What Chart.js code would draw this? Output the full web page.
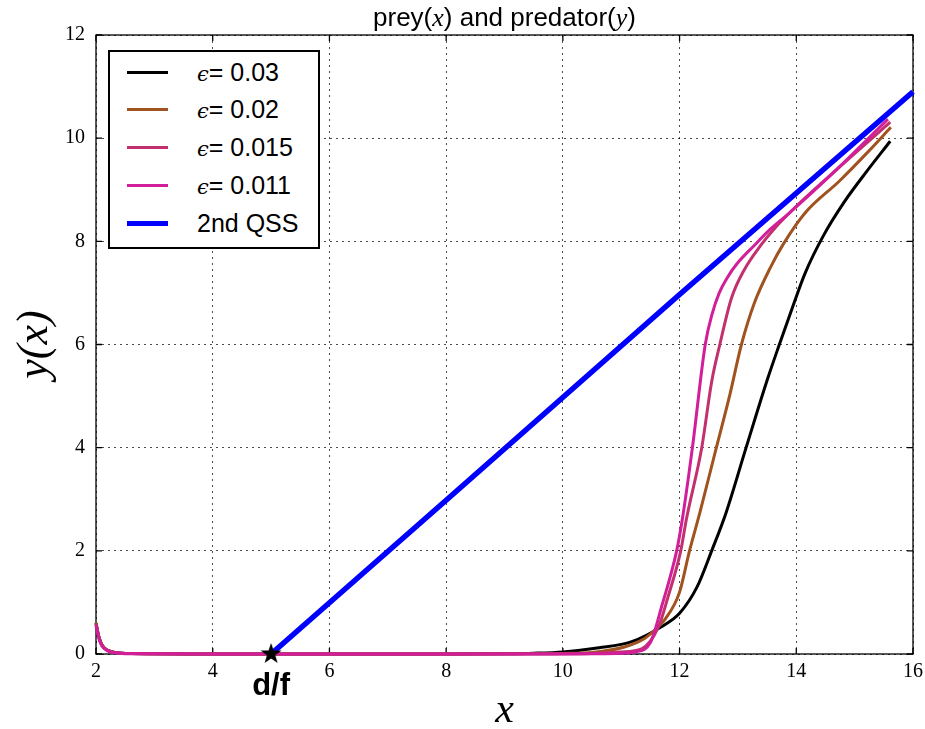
<!DOCTYPE html>
<html>
<head>
<meta charset="utf-8">
<script src="https://cdn.jsdelivr.net/npm/chart.js@4.4.1/dist/chart.umd.min.js"></script>
<style>
  body { margin: 0; background: #fff; }
  #wrap { position: relative; width: 925px; height: 729px; }
  #legend {
    position: absolute; left: 108px; top: 50px; width: 208px; height: 195px;
    border: 2px solid #000; background: #fff;
    font-family: "Liberation Sans", Arial, sans-serif; font-size: 25px; color: #000;
  }
  #legend .row { position: absolute; left: 0; width: 100%; height: 30px; }
  #legend .swatch { position: absolute; left: 17px; width: 41px; top: 14px; height: 3px; }
  #legend .lbl { position: absolute; left: 87px; top: 0; line-height: 30px; white-space: nowrap; }
  #legend .eps { font-family: "DejaVu Serif", serif; font-style: italic; font-size: 21px; }
</style>
</head>
<body>
<div id="wrap">
  <canvas id="chart" width="925" height="729"></canvas>
  <div id="legend"></div>
</div>
<script>
/* presa e predador: y(x) para vários epsilon e a 2ª QSS */

const xTickValues = [2, 4, 6, 8, 10, 12, 14, 16];
const yTickValues = [0, 2, 4, 6, 8, 10, 12];

const eps003X = [2, 2.05, 2.1, 2.2, 2.35, 2.6, 4, 6, 8, 9, 9.5, 10, 10.62, 11.18, 11.69, 12.0, 12.3, 12.55, 12.8, 13.14, 13.51, 13.71, 13.96, 14.15, 14.47, 14.82, 15.21, 15.61];
const eps003Y = [0.6, 0.33, 0.18, 0.07, 0.025, 0.008, 0, 0, 0, 0.005, 0.015, 0.04, 0.12, 0.24, 0.53, 0.79, 1.3, 2.0, 2.75, 4.0, 5.34, 6.0, 6.8, 7.38, 8.12, 8.76, 9.36, 9.94];

const eps002X = [2, 2.05, 2.1, 2.2, 2.35, 2.6, 4, 6, 8, 9.5, 10, 10.5, 11.07, 11.4, 11.58, 11.75, 12.0, 12.17, 12.35, 12.63, 12.86, 13.06, 13.28, 13.56, 13.78, 14.15, 14.74, 15.2, 15.62];
const eps002Y = [0.6, 0.33, 0.18, 0.07, 0.025, 0.008, 0, 0, 0, 0.004, 0.01, 0.03, 0.14, 0.3, 0.47, 0.67, 1.2, 2.0, 2.75, 4.0, 5.02, 6.0, 6.8, 7.5, 7.95, 8.55, 9.17, 9.7, 10.21];

const eps0015X = [2, 2.05, 2.1, 2.2, 2.35, 2.6, 4, 6, 8, 10, 10.5, 11, 11.35, 11.64, 11.8, 12.02, 12.12, 12.38, 12.55, 12.69, 12.89, 13.11, 13.39, 13.62, 14.0, 14.8, 15.61];
const eps0015Y = [0.58, 0.32, 0.17, 0.07, 0.025, 0.008, 0, 0, 0, 0.004, 0.01, 0.04, 0.1, 0.53, 1.1, 2.0, 2.63, 4.0, 5.28, 6.0, 6.9, 7.45, 7.92, 8.24, 8.68, 9.5, 10.31];

const eps0011X = [2, 2.05, 2.1, 2.2, 2.35, 2.6, 4, 6, 8, 10, 10.5, 11, 11.24, 11.5, 11.7, 11.95, 12.05, 12.22, 12.44, 12.56, 12.68, 12.82, 12.98, 13.28, 13.56, 13.85, 14.7, 15.57];
const eps0011Y = [0.56, 0.3, 0.16, 0.06, 0.02, 0.006, 0, 0, 0, 0.002, 0.005, 0.015, 0.04, 0.22, 0.95, 2.0, 2.63, 4.0, 6.0, 6.6, 7.0, 7.3, 7.56, 7.92, 8.24, 8.52, 9.4, 10.37];

const qssX = [5, 8, 12, 16];
const qssY = [0, 2.98, 6.97, 10.9];

const starX = [5];
const starY = [0];

const legendItems = [
  { eps: true, text: '= 0.03', color: '#000000', width: 3 },
  { eps: true, text: '= 0.02', color: '#a0521f', width: 3 },
  { eps: true, text: '= 0.015', color: '#c2306e', width: 3 },
  { eps: true, text: '= 0.011', color: '#d21e9a', width: 3 },
  { eps: false, text: '2nd QSS', color: '#0000ff', width: 5 }
];

function pts(xs, ys) {
  return xs.map(function (x, i) { return { x: x, y: ys[i] }; });
}

/* legenda em HTML, no estilo da caixa do matplotlib */
(function () {
  const box = document.getElementById('legend');
  const centers = [20, 57, 95, 133, 171];
  legendItems.forEach(function (it, i) {
    const row = document.createElement('div');
    row.className = 'row';
    row.style.top = (centers[i] - 15) + 'px';
    const sw = document.createElement('div');
    sw.className = 'swatch';
    sw.style.background = it.color;
    sw.style.height = it.width + 'px';
    sw.style.top = (15 - it.width / 2) + 'px';
    const lbl = document.createElement('div');
    lbl.className = 'lbl';
    if (it.eps) {
      const e = document.createElement('span');
      e.className = 'eps';
      e.textContent = '\u03F5';
      lbl.appendChild(e);
    }
    lbl.appendChild(document.createTextNode(it.text));
    row.appendChild(sw);
    row.appendChild(lbl);
    box.appendChild(row);
  });
})();

/* estrela preenchida de cinco pontas para o ponto d/f */
function makeStar(size) {
  const c = document.createElement('canvas');
  c.width = size; c.height = size;
  const g = c.getContext('2d');
  const cx = size / 2, cy = size / 2, R = size / 2, r = R * 0.4;
  g.beginPath();
  for (let k = 0; k < 10; k++) {
    const rad = k % 2 === 0 ? R : r;
    const a = -Math.PI / 2 + k * Math.PI / 5;
    g.lineTo(cx + rad * Math.cos(a), cy + rad * Math.sin(a));
  }
  g.closePath();
  g.fillStyle = '#000';
  g.fill();
  return c;
}

const serif = '"Liberation Serif", "DejaVu Serif", serif';
const sans = '"Liberation Sans", Arial, sans-serif';

const decor = {
  id: 'decor',
  beforeDatasetsDraw: function (chart) {
    const ctx = chart.ctx, a = chart.chartArea;
    const xs = chart.scales.x, ys = chart.scales.y;
    ctx.save();
    ctx.strokeStyle = '#000';
    ctx.lineWidth = 1.3;
    ctx.setLineDash([]);
    ctx.strokeRect(a.left, a.top, a.right - a.left, a.bottom - a.top);
    const L = 6;
    ctx.beginPath();
    xTickValues.forEach(function (v) {
      const p = xs.getPixelForValue(v);
      ctx.moveTo(p, a.bottom); ctx.lineTo(p, a.bottom - L);
      ctx.moveTo(p, a.top); ctx.lineTo(p, a.top + L);
    });
    yTickValues.forEach(function (v) {
      const p = ys.getPixelForValue(v);
      ctx.moveTo(a.left, p); ctx.lineTo(a.left + L, p);
      ctx.moveTo(a.right, p); ctx.lineTo(a.right - L, p);
    });
    ctx.stroke();
    ctx.restore();
  },
  afterDraw: function (chart) {
    const ctx = chart.ctx, a = chart.chartArea;
    const xs = chart.scales.x;
    ctx.save();
    ctx.fillStyle = '#000';

    /* título com partes matemáticas em itálico */
    const parts = [
      { t: 'prey(', f: '26px ' + sans },
      { t: 'x', f: 'italic 26px ' + serif },
      { t: ') and predator(', f: '26px ' + sans },
      { t: 'y', f: 'italic 26px ' + serif },
      { t: ')', f: '26px ' + sans }
    ];
    let total = 0;
    parts.forEach(function (p) { ctx.font = p.f; p.w = ctx.measureText(p.t).width; total += p.w; });
    let px = (a.left + a.right) / 2 - total / 2;
    ctx.textBaseline = 'alphabetic';
    ctx.textAlign = 'left';
    parts.forEach(function (p) { ctx.font = p.f; ctx.fillText(p.t, px, 26); px += p.w; });

    /* rótulos dos eixos */
    ctx.textAlign = 'center';
    ctx.font = 'italic 42px ' + serif;
    ctx.fillText('x', (a.left + a.right) / 2, 722);
    ctx.save();
    ctx.translate(47, (a.top + a.bottom) / 2);
    ctx.rotate(-Math.PI / 2);
    ctx.font = 'italic 44px ' + serif;
    ctx.fillText('y(x)', 0, 0);
    ctx.restore();

    /* rótulo d/f sob a estrela */
    ctx.font = 'bold 31px ' + sans;
    ctx.fillText('d/f', xs.getPixelForValue(starX[0]), 695);
    ctx.restore();
  }
};

new Chart(document.getElementById('chart'), {
  type: 'line',
  data: {
    datasets: [
      { label: 'd/f', data: pts(starX, starY), showLine: false, pointStyle: makeStar(22), pointRadius: 11, order: 0, clip: false },
      { label: '2nd QSS', data: pts(qssX, qssY), borderColor: '#0000ff', borderWidth: 5.5, pointRadius: 0, tension: 0, order: 1, clip: 4 },
      { label: '\u03F5= 0.011', data: pts(eps0011X, eps0011Y), borderColor: '#d21e9a', borderWidth: 3, pointRadius: 0, cubicInterpolationMode: 'monotone', order: 2, clip: 4 },
      { label: '\u03F5= 0.015', data: pts(eps0015X, eps0015Y), borderColor: '#c2306e', borderWidth: 3, pointRadius: 0, cubicInterpolationMode: 'monotone', order: 3, clip: 4 },
      { label: '\u03F5= 0.02', data: pts(eps002X, eps002Y), borderColor: '#a0521f', borderWidth: 3, pointRadius: 0, cubicInterpolationMode: 'monotone', order: 4, clip: 4 },
      { label: '\u03F5= 0.03', data: pts(eps003X, eps003Y), borderColor: '#000000', borderWidth: 3, pointRadius: 0, cubicInterpolationMode: 'monotone', order: 5, clip: 4 }
    ]
  },
  options: {
    responsive: false,
    animation: false,
    layout: { padding: { left: 0, right: 10, top: 35, bottom: 0 } },
    plugins: { legend: { display: false }, tooltip: { enabled: false }, title: { display: false } },
    scales: {
      x: {
        type: 'linear', min: 2, max: 16,
        afterBuildTicks: function (s) { s.ticks = xTickValues.map(function (v) { return { value: v }; }); },
        afterFit: function (s) { s.height = 75; s.paddingLeft = 0; s.paddingRight = 0; },
        grid: { color: 'rgba(0,0,0,0.7)', lineWidth: 1, drawTicks: false },
        border: { display: false, dash: [2, 4] },
        ticks: { color: '#000', font: { family: serif, size: 20 }, padding: 6, maxRotation: 0 }
      },
      y: {
        type: 'linear', min: 0, max: 12,
        afterBuildTicks: function (s) { s.ticks = yTickValues.map(function (v) { return { value: v }; }); },
        afterFit: function (s) { s.width = 96; s.paddingTop = 0; s.paddingBottom = 0; },
        grid: { color: 'rgba(0,0,0,0.7)', lineWidth: 1, drawTicks: false },
        border: { display: false, dash: [2, 4] },
        ticks: { color: '#000', font: { family: serif, size: 20 }, padding: 11 }
      }
    }
  },
  plugins: [decor]
});
</script>
</body>
</html>
